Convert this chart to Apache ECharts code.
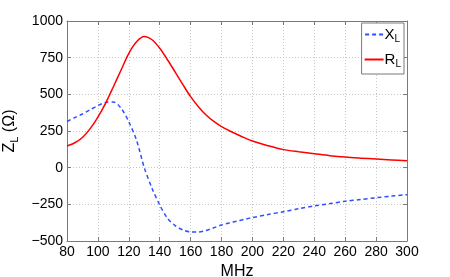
<!DOCTYPE html>
<html><head><meta charset="utf-8">
<script src="https://cdn.jsdelivr.net/npm/echarts@6/dist/echarts.min.js"></script>
<style>html,body{margin:0;padding:0;background:#fff}#c{width:450px;height:277px}</style>
</head><body><div id="c"></div>
<script>
const freqMHz = [80, 85, 90, 95, 100, 105, 110, 115, 120, 125, 130, 135, 140, 145, 150, 155, 160, 165, 170, 175, 180, 185, 190, 195, 200, 210, 220, 230, 240, 250, 260, 270, 280, 290, 300];
const XL = [315, 341, 366, 395, 423, 445, 448, 405, 313, 187, 0, -140, -254, -345, -395, -425, -438, -438, -428, -410, -391, -377, -364, -352, -340, -320, -300, -280, -261, -245, -229, -217, -205, -194, -184];
const RL = [148, 170, 206, 266, 345, 440, 552, 666, 780, 859, 895, 872, 814, 736, 652, 566, 484, 416, 359, 315, 280, 252, 227, 203, 182, 150, 123, 108, 95, 82, 72, 65, 59, 53, 47];
const xTicks = {min: 80, max: 300, interval: 20};
const yTicks = {min: -500, max: 1000, interval: 250};
const seriesNames = ['XL', 'RL'];

const chart = echarts.init(document.getElementById('c'), null, {renderer: 'canvas'});
const FONT = 'Liberation Sans';
const axisCol = '#7a7a7a';
const gridLine = {show: true, lineStyle: {color: '#c8c8c8', type: [1, 2], width: 1}};
const sub = {
  a: {fontFamily: FONT, fontSize: 16, color: '#000'},
  b: {fontFamily: FONT, fontSize: 11, color: '#000', padding: [9, 0, 0, 0]}
};
const subLeg = {
  a: {fontFamily: FONT, fontSize: 15, color: '#000'},
  b: {fontFamily: FONT, fontSize: 10, color: '#000', padding: [9, 0, 0, 0]}
};
const blue = '#2f4fff';
chart.setOption({
  animation: false,
  grid: {left: 67, right: 43, top: 21, bottom: 36, containLabel: false, outerBoundsMode: 'none'},
  xAxis: [{
    type: 'value', min: xTicks.min, max: xTicks.max, interval: xTicks.interval,
    name: 'MHz', nameLocation: 'middle', nameGap: 14,
    nameTextStyle: {fontFamily: FONT, fontSize: 16, color: '#000'},
    axisLine: {show: true, onZero: false, lineStyle: {color: axisCol}},
    axisTick: {inside: true, length: 4, lineStyle: {color: axisCol}},
    axisLabel: {fontFamily: FONT, fontSize: 14, color: '#000', margin: 4},
    splitLine: gridLine
  }, {
    type: 'value', position: 'top', min: xTicks.min, max: xTicks.max, interval: xTicks.interval,
    axisLine: {show: true, onZero: false, lineStyle: {color: axisCol}},
    axisTick: {inside: true, length: 4, lineStyle: {color: axisCol}},
    axisLabel: {show: false}, splitLine: {show: false}
  }],
  yAxis: [{
    type: 'value', min: yTicks.min, max: yTicks.max, interval: yTicks.interval,
    name: '{a|Z}{b|L}{a| (Ω)}', nameLocation: 'middle', nameGap: 47, nameRotate: 90,
    nameTextStyle: {rich: sub},
    axisLine: {show: true, onZero: false, lineStyle: {color: axisCol}},
    axisTick: {inside: true, length: 4, lineStyle: {color: axisCol}},
    axisLabel: {fontFamily: FONT, fontSize: 14, color: '#000', margin: 4,
      formatter: v => String(v).replace('-', '\u2212')},
    splitLine: gridLine
  }, {
    type: 'value', position: 'right', min: yTicks.min, max: yTicks.max, interval: yTicks.interval,
    axisLine: {show: true, onZero: false, lineStyle: {color: axisCol}},
    axisTick: {inside: true, length: 4, lineStyle: {color: axisCol}},
    axisLabel: {show: false}, splitLine: {show: false}
  }],
  legend: {
    orient: 'vertical', right: 46, top: 23,
    backgroundColor: '#fff', borderColor: axisCol, borderWidth: 1, borderRadius: 0,
    padding: [4, 3, 5, 3], itemGap: 8, itemWidth: 19, itemHeight: 2,
    data: [
      {name: seriesNames[0], icon: 'path://M0,0h4v2h-4z M7,0h4v2h-4z M14,0h4v2h-4z', itemStyle: {color: blue}},
      {name: seriesNames[1], icon: 'rect', itemStyle: {color: '#ff0000'}}
    ],
    formatter: n => '{a|' + n[0] + '}{b|' + n[1] + '}',
    textStyle: {rich: subLeg, padding: [0, 0, 0, -4]}
  },
  series: [{
    name: seriesNames[0], type: 'line', xAxisIndex: 0, yAxisIndex: 0,
    data: freqMHz.map((f, i) => [f, XL[i]]),
    smooth: 0.3, symbol: 'none',
    lineStyle: {color: blue, width: 1.5, type: [4, 3]},
    itemStyle: {color: blue}
  }, {
    name: seriesNames[1], type: 'line', xAxisIndex: 0, yAxisIndex: 0,
    data: freqMHz.map((f, i) => [f, RL[i]]),
    smooth: 0.3, symbol: 'none',
    lineStyle: {color: '#ff0000', width: 1.5},
    itemStyle: {color: '#ff0000'}
  }]
});
</script></body></html>
